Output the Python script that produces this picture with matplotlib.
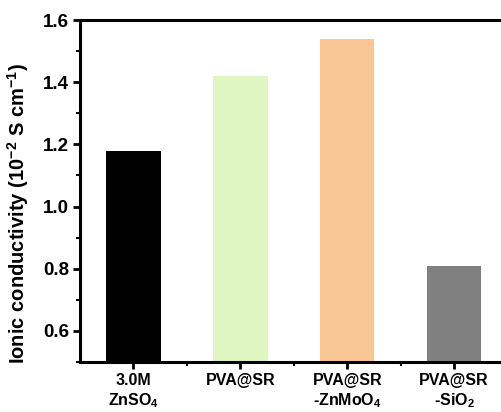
import matplotlib.pyplot as plt
import numpy as np
from matplotlib.ticker import MultipleLocator

plt.rcParams['font.family'] = ['Liberation Sans', 'DejaVu Sans']
plt.rcParams['font.weight'] = 'bold'
plt.rcParams['mathtext.fontset'] = 'custom'
plt.rcParams['mathtext.rm'] = 'Liberation Sans:bold'
plt.rcParams['mathtext.bf'] = 'Liberation Sans:bold'
plt.rcParams['mathtext.default'] = 'bf'

labels = ['3.0M\nZnSO$_4$', 'PVA@SR', 'PVA@SR\n-ZnMoO$_4$', 'PVA@SR\n-SiO$_2$']
values = [1.18, 1.42, 1.54, 0.81]
colors = ['#000000', '#dff5c2', '#f9c795', '#808080']

fig = plt.figure(figsize=(5.02, 4.12), dpi=100)
ax = fig.add_axes([0.1594, 0.1214, 0.8516, 0.830])

x = np.arange(len(values))
ax.bar(x, values, width=0.51, color=colors)

ax.set_xlim(-0.5, 3.5)
ax.set_ylim(0.5, 1.6)
ax.yaxis.set_minor_locator(MultipleLocator(0.1))
ax.set_xticks(x)
ax.set_xticklabels(labels, fontsize=11.5, fontweight='bold')
ax.set_xticks(x[:-1] + 0.5, minor=True)
ax.set_yticks([0.6, 0.8, 1.0, 1.2, 1.4, 1.6])
ax.set_yticklabels(['0.6', '0.8', '1.0', '1.2', '1.4', '1.6'], fontsize=13.5, fontweight='bold')

for s in ax.spines.values():
    s.set_linewidth(2.2)
ax.tick_params(axis='both', which='major', direction='out', length=5, width=2, pad=3)
ax.tick_params(axis='both', which='minor', direction='out', length=3, width=1.5)

ax.set_ylabel('Ionic conductivity (10$^{-2}$ S cm$^{-1}$)', fontsize=14.5, fontweight='bold')
ax.yaxis.set_label_coords(-0.115, 0.435)

fig.savefig('out.png', dpi=100)
